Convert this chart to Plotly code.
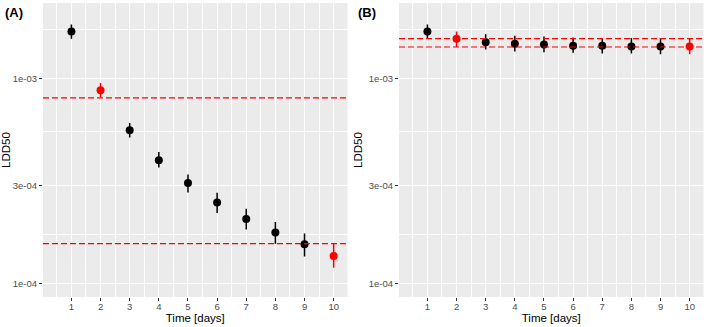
import plotly.graph_objects as go

days = [1, 2, 3, 4, 5, 6, 7, 8, 9, 10]

# Panel A
a_ldd50 = [1.69e-3, 8.74e-4, 5.58e-4, 3.98e-4, 3.08e-4, 2.48e-4, 2.06e-4, 1.77e-4, 1.55e-4, 1.36e-4]
a_upper = [1.83e-3, 9.48e-4, 6.05e-4, 4.37e-4, 3.39e-4, 2.76e-4, 2.31e-4, 1.99e-4, 1.75e-4, 1.56e-4]
a_lower = [1.56e-3, 8.11e-4, 5.14e-4, 3.67e-4, 2.77e-4, 2.20e-4, 1.83e-4, 1.56e-4, 1.35e-4, 1.19e-4]
a_refs = [8.02e-4, 1.56e-4]

# Panel B
b_ldd50 = [1.69e-3, 1.56e-3, 1.50e-3, 1.475e-3, 1.46e-3, 1.44e-3, 1.44e-3, 1.43e-3, 1.43e-3, 1.43e-3]
b_upper = [1.83e-3, 1.69e-3, 1.64e-3, 1.61e-3, 1.60e-3, 1.58e-3, 1.57e-3, 1.57e-3, 1.57e-3, 1.56e-3]
b_lower = [1.56e-3, 1.42e-3, 1.38e-3, 1.35e-3, 1.34e-3, 1.33e-3, 1.32e-3, 1.32e-3, 1.31e-3, 1.31e-3]
b_refs = [1.56e-3, 1.42e-3]

highlight = [2, 10]
ytick_vals = [1e-4, 3e-4, 1e-3]
ytick_text = ["1e-04", "3e-04", "1e-03"]
yminor_vals = [1.732e-4, 5.477e-4, 1.732e-3]
xminor_vals = [0.5, 1.5, 2.5, 3.5, 4.5, 5.5, 6.5, 7.5, 8.5, 9.5, 10.5]
panel_labels = ["(A)", "(B)"]

BG = "#EBEBEB"
TXT = "#4D4D4D"
FONT = "Liberation Sans, Arial"

fig = go.Figure()


def add_panel(vals, up, lo, xa, ya):
    for colour, sel in (("black", lambda d: d not in highlight), ("#FF0000", lambda d: d in highlight)):
        idx = [i for i, d in enumerate(days) if sel(d)]
        fig.add_trace(go.Scatter(
            x=[days[i] for i in idx],
            y=[vals[i] for i in idx],
            mode="markers",
            marker=dict(color=colour, size=8),
            error_y=dict(type="data", symmetric=False,
                         array=[up[i] - vals[i] for i in idx],
                         arrayminus=[vals[i] - lo[i] for i in idx],
                         color=colour, thickness=1.5, width=0),
            xaxis=xa, yaxis=ya, showlegend=False, hoverinfo="skip",
        ))


add_panel(a_ldd50, a_upper, a_lower, "x", "y")
add_panel(b_ldd50, b_upper, b_lower, "x2", "y2")

shapes = []
for refs, xr, yr in ((a_refs, "x domain", "y"), (b_refs, "x2 domain", "y2")):
    for r in refs:
        shapes.append(dict(type="line", xref=xr, yref=yr, x0=0, x1=1, y0=r, y1=r,
                           line=dict(color="#FF0000", width=1.2, dash="6px,3px"), layer="above"))

W, H = 709, 327
ydom = [1 - 297 / H, 1 - 3 / H]

xcommon = dict(range=[0.025, 10.475], tickmode="array", tickvals=days,
               ticks="outside", ticklen=3, tickwidth=1, tickcolor="#333333",
               tickfont=dict(family=FONT, size=9.5, color=TXT), ticklabelstandoff=-2,
               showgrid=True, gridcolor="white", gridwidth=1.1, zeroline=False,
               showline=False, automargin=False,
               minor=dict(tickmode="array", tickvals=xminor_vals, showgrid=True,
                          gridcolor="white", gridwidth=0.5, ticks=""),
               title=dict(text="Time [days]", font=dict(family=FONT, size=11.5, color="black"),
                          standoff=1))
ycommon = dict(type="log", range=[-4.067, -2.633], tickmode="array", tickvals=ytick_vals,
               ticktext=ytick_text, ticks="outside", ticklen=3, tickwidth=1, tickcolor="#333333",
               tickfont=dict(family=FONT, size=9.5, color=TXT),
               showgrid=True, gridcolor="white", gridwidth=1.1, zeroline=False, showline=False,
               automargin=False,
               minor=dict(tickmode="array", tickvals=yminor_vals, showgrid=True,
                          gridcolor="white", gridwidth=0.5, ticks=""),
               title=dict(text="LDD50", font=dict(family=FONT, size=11.5, color="black"),
                          standoff=3),
               domain=ydom)

fig.update_layout(
    width=W, height=H, margin=dict(l=0, r=0, t=0, b=0),
    paper_bgcolor="white", plot_bgcolor=BG,
    xaxis=dict(domain=[43 / W, 347.5 / W], anchor="y", **xcommon),
    xaxis2=dict(domain=[399 / W, 703.5 / W], anchor="y2", **xcommon),
    yaxis=dict(anchor="x", **ycommon),
    yaxis2=dict(anchor="x2", **ycommon),
    shapes=shapes,
    annotations=[
        dict(text="<b>%s</b>" % panel_labels[0], x=3 / W, y=1 - 3 / H, xref="paper", yref="paper",
             xanchor="left", yanchor="top", showarrow=False,
             font=dict(family=FONT, size=13, color="black")),
        dict(text="<b>%s</b>" % panel_labels[1], x=356 / W, y=1 - 3 / H, xref="paper", yref="paper",
             xanchor="left", yanchor="top", showarrow=False,
             font=dict(family=FONT, size=13, color="black")),
    ],
)

fig.write_html("out.html", config={"displayModeBar": False},
               post_script="document.body.style.margin='0';")
